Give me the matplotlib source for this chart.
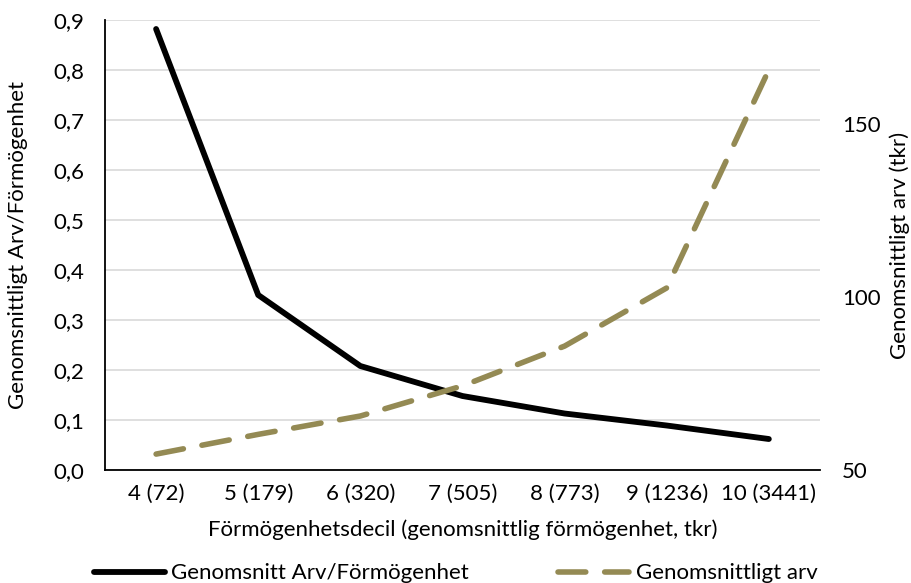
import matplotlib.pyplot as plt
from matplotlib.ticker import FuncFormatter

plt.rcParams['font.family'] = ['Lato', 'DejaVu Sans']

# data
deciles = ["4 (72)", "5 (179)", "6 (320)", "7 (505)", "8 (773)", "9 (1236)", "10 (3441)"]
ratio = [0.882, 0.350, 0.208, 0.148, 0.113, 0.089, 0.062]
arv = [54.6, 60.3, 65.6, 74.3, 85.8, 102.6, 165.6]

left_ticks = [0.0, 0.1, 0.2, 0.3, 0.4, 0.5, 0.6, 0.7, 0.8, 0.9]
right_ticks = [50, 100, 150]

fs = 16
fig = plt.figure(figsize=(9.11, 5.83), dpi=100)
ax = fig.add_subplot(111)
fig.subplots_adjust(left=0.1153, right=0.900, top=0.9657, bottom=0.1938)

x = list(range(len(deciles)))

ax.set_xlim(-0.5, len(deciles) - 0.5)
ax.set_ylim(0, 0.9)
ax.set_yticks(left_ticks)
ax.yaxis.set_major_formatter(FuncFormatter(lambda v, p: f"{v:.1f}".replace(".", ",")))
ax.grid(axis='y', color='#D9D9D9', linewidth=1.2)
ax.set_axisbelow(True)
ax.set_xticks(x)
ax.set_xticklabels(deciles)
ax.tick_params(axis='both', length=0, labelsize=fs)
ax.tick_params(axis='x', pad=10)
ax.tick_params(axis='y', pad=15)
for s in ['top', 'right']:
    ax.spines[s].set_visible(False)
ax.spines['left'].set_linewidth(1.3)
ax.spines['bottom'].set_linewidth(1.3)

l1, = ax.plot(x, ratio, color='black', linewidth=4.2, solid_capstyle='round',
              solid_joinstyle='round', label='Genomsnitt Arv/Förmögenhet', zorder=3)

ax2 = ax.twinx()
ax2.set_ylim(50, 180)
ax2.set_yticks(right_ticks)
ax2.tick_params(axis='y', length=0, labelsize=fs, pad=16)
for s in ['top', 'right', 'left', 'bottom']:
    ax2.spines[s].set_visible(False)
l2, = ax2.plot(x, arv, color='#948A54', linewidth=4.0, dashes=(5, 3.4),
               dash_capstyle='round', label='Genomsnittligt arv', zorder=3)

ax.set_xlabel('Förmögenhetsdecil (genomsnittlig förmögenhet, tkr)', fontsize=fs)
ax.set_ylabel('Genomsnittligt Arv/Förmögenhet', fontsize=fs)
ax2.set_ylabel('Genomsnittligt arv (tkr)', fontsize=fs)
ax.xaxis.set_label_coords(0.5, -0.11)
ax.yaxis.set_label_coords(-0.108, 0.5)
ax2.yaxis.set_label_coords(1.097, 0.5)

fig.legend([l1, l2], [l1.get_label(), l2.get_label()], loc='lower center',
           bbox_to_anchor=(0.5, -0.035), ncol=2, frameon=False, fontsize=fs,
           handlelength=3.2, handletextpad=0.3, columnspacing=4.0)

fig.savefig('out.png', dpi=100)
